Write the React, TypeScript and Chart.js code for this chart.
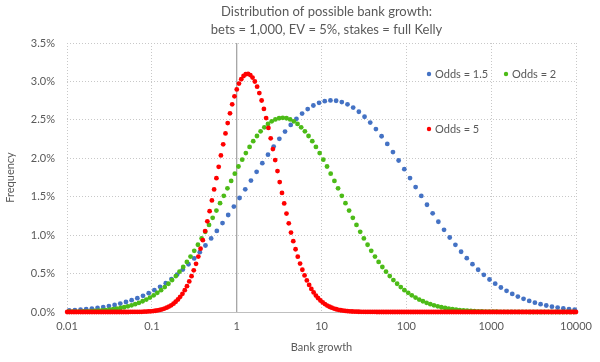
import React, { useEffect, useRef } from "react";
import { Chart, registerables } from "chart.js";

Chart.register(...registerables);

const TITLE_LINES = ["Distribution of possible bank growth:", "bets = 1,000, EV = 5%, stakes = full Kelly"];
const X_AXIS_TITLE = "Bank growth";
const Y_AXIS_TITLE = "Frequency";
const X_TICK_VALUES = [0.01, 0.1, 1, 10, 100, 1000, 10000];
const X_TICK_LABELS = ["0.01", "0.1", "1", "10", "100", "1000", "10000"];
const Y_MIN = 0;
const Y_MAX = 3.5;
const Y_STEP = 0.5;
const REFERENCE_LINE_X = 1;
const SERIES_LABELS = ["Odds = 1.5", "Odds = 2", "Odds = 5"];

// log10(bank growth) of each point, and its frequency in %
const ODDS_1_5_LOG_GROWTH = [
  -1.974, -1.907, -1.84, -1.774, -1.707, -1.64, -1.573, -1.506, -1.439, -1.372,
  -1.305, -1.238, -1.171, -1.104, -1.037, -0.97, -0.903, -0.836, -0.769, -0.702,
  -0.635, -0.568, -0.501, -0.435, -0.368, -0.301, -0.234, -0.167, -0.1, -0.033,
  0.034, 0.101, 0.168, 0.235, 0.302, 0.369, 0.436, 0.503, 0.57, 0.637,
  0.704, 0.771, 0.837, 0.904, 0.971, 1.038, 1.105, 1.172, 1.239, 1.306,
  1.373, 1.44, 1.507, 1.574, 1.641, 1.708, 1.775, 1.842, 1.909, 1.976,
  2.043, 2.109, 2.176, 2.243, 2.31, 2.377, 2.444, 2.511, 2.578, 2.645,
  2.712, 2.779, 2.846, 2.913, 2.98, 3.047, 3.114, 3.181, 3.248, 3.314,
  3.381, 3.448, 3.515, 3.582, 3.649, 3.716, 3.783, 3.85, 3.917, 3.984,
];
const ODDS_1_5_FREQ = [
  0.0197, 0.0243, 0.0298, 0.0364, 0.0443, 0.0536, 0.0646, 0.0775, 0.0926, 0.1101,
  0.1304, 0.1537, 0.1803, 0.2107, 0.245, 0.2836, 0.327, 0.3751, 0.4286, 0.4873,
  0.5516, 0.6215, 0.6971, 0.7786, 0.8654, 0.9575, 1.0547, 1.1565, 1.2622, 1.3713,
  1.483, 1.5963, 1.7104, 1.8243, 1.9367, 2.0464, 2.1523, 2.253, 2.3476, 2.4346,
  2.5132, 2.5819, 2.6402, 2.6869, 2.7216, 2.7437, 2.7529, 2.7489, 2.732, 2.7021,
  2.6598, 2.6057, 2.5404, 2.4648, 2.38, 2.287, 2.1871, 2.0814, 1.9711, 1.8577,
  1.7422, 1.6259, 1.51, 1.3955, 1.2834, 1.1745, 1.0695, 0.9691, 0.8738, 0.784,
  0.6999, 0.6217, 0.5496, 0.4833, 0.423, 0.3683, 0.319, 0.275, 0.2358, 0.2013,
  0.1709, 0.1443, 0.1212, 0.1013, 0.0844, 0.0697, 0.0574, 0.047, 0.0383, 0.031,
];

const ODDS_2_LOG_GROWTH = [
  -1.978, -1.934, -1.891, -1.848, -1.804, -1.761, -1.717, -1.674, -1.63, -1.587,
  -1.543, -1.5, -1.456, -1.413, -1.369, -1.326, -1.282, -1.239, -1.196, -1.152,
  -1.109, -1.065, -1.022, -0.978, -0.935, -0.891, -0.848, -0.804, -0.761, -0.717,
  -0.674, -0.63, -0.587, -0.544, -0.5, -0.457, -0.413, -0.37, -0.326, -0.283,
  -0.239, -0.196, -0.152, -0.109, -0.065, -0.022, 0.021, 0.065, 0.108, 0.152,
  0.195, 0.239, 0.282, 0.326, 0.369, 0.413, 0.456, 0.5, 0.543, 0.587,
  0.63, 0.674, 0.717, 0.76, 0.804, 0.847, 0.891, 0.934, 0.978, 1.021,
  1.065, 1.108, 1.152, 1.195, 1.239, 1.282, 1.325, 1.369, 1.412, 1.456,
  1.499, 1.543, 1.586, 1.63, 1.673, 1.717, 1.76, 1.804, 1.847, 1.891,
  1.934, 1.977, 2.021, 2.064, 2.108, 2.151, 2.195, 2.238, 2.282, 2.325,
  2.369, 2.412, 2.456, 2.499, 2.543, 2.586, 2.629, 2.673, 2.716, 2.76,
  2.803, 2.847, 2.89, 2.934, 2.977, 3.021, 3.064, 3.108, 3.151, 3.194,
  3.238, 3.281, 3.325, 3.368, 3.412, 3.455, 3.499, 3.542, 3.586, 3.629,
  3.673, 3.716, 3.76, 3.803, 3.846, 3.89, 3.933, 3.977,
];
const ODDS_2_FREQ = [
  0.003, 0.0037, 0.0047, 0.0059, 0.0073, 0.009, 0.0112, 0.0137, 0.0168, 0.0205,
  0.0249, 0.0301, 0.0363, 0.0436, 0.0521, 0.062, 0.0735, 0.0868, 0.1021, 0.1197,
  0.1397, 0.1623, 0.1879, 0.2167, 0.2489, 0.2846, 0.3242, 0.3678, 0.4157, 0.4679,
  0.5246, 0.5857, 0.6514, 0.7215, 0.796, 0.8747, 0.9573, 1.0434, 1.1329, 1.225,
  1.3194, 1.4153, 1.5121, 1.6091, 1.7054, 1.8003, 1.8928, 1.9821, 2.0673, 2.1476,
  2.2221, 2.2899, 2.3504, 2.4028, 2.4465, 2.4811, 2.5061, 2.5212, 2.5263, 2.5212,
  2.5061, 2.4811, 2.4465, 2.4028, 2.3504, 2.2899, 2.2221, 2.1476, 2.0673, 1.9821,
  1.8928, 1.8003, 1.7054, 1.6091, 1.5121, 1.4153, 1.3194, 1.225, 1.1329, 1.0434,
  0.9573, 0.8747, 0.796, 0.7215, 0.6514, 0.5857, 0.5246, 0.4679, 0.4157, 0.3678,
  0.3242, 0.2846, 0.2489, 0.2167, 0.1879, 0.1623, 0.1397, 0.1197, 0.1021, 0.0868,
  0.0735, 0.062, 0.0521, 0.0436, 0.0363, 0.0301, 0.0249, 0.0205, 0.0168, 0.0137,
  0.0112, 0.009, 0.0073, 0.0059, 0.0047, 0.0037, 0.003, 0.0023, 0.0018, 0.0015,
  0.0011, 0.0009, 0.0007, 0.0005, 0.0004, 0.0003, 0.0002, 0.0002, 0.0001, 0.0001,
  0.0001, 0.0001, 0, 0, 0, 0, 0, 0,
];

const ODDS_5_LOG_GROWTH = [
  -1.998, -1.971, -1.945, -1.918, -1.892, -1.865, -1.838, -1.812, -1.785, -1.758,
  -1.732, -1.705, -1.678, -1.652, -1.625, -1.598, -1.572, -1.545, -1.518, -1.492,
  -1.465, -1.438, -1.412, -1.385, -1.358, -1.332, -1.305, -1.279, -1.252, -1.225,
  -1.199, -1.172, -1.145, -1.119, -1.092, -1.065, -1.039, -1.012, -0.985, -0.959,
  -0.932, -0.905, -0.879, -0.852, -0.825, -0.799, -0.772, -0.745, -0.719, -0.692,
  -0.666, -0.639, -0.612, -0.586, -0.559, -0.532, -0.506, -0.479, -0.452, -0.426,
  -0.399, -0.372, -0.346, -0.319, -0.292, -0.266, -0.239, -0.212, -0.186, -0.159,
  -0.132, -0.106, -0.079, -0.053, -0.026, 0.001, 0.027, 0.054, 0.081, 0.107,
  0.134, 0.161, 0.187, 0.214, 0.241, 0.267, 0.294, 0.321, 0.347, 0.374,
  0.401, 0.427, 0.454, 0.481, 0.507, 0.534, 0.56, 0.587, 0.614, 0.64,
  0.667, 0.694, 0.72, 0.747, 0.774, 0.8, 0.827, 0.854, 0.88, 0.907,
  0.934, 0.96, 0.987, 1.014, 1.04, 1.067, 1.094, 1.12, 1.147, 1.173,
  1.2, 1.227, 1.253, 1.28, 1.307, 1.333, 1.36, 1.387, 1.413, 1.44,
  1.467, 1.493, 1.52, 1.547, 1.573, 1.6, 1.627, 1.653, 1.68, 1.707,
  1.733, 1.76, 1.786, 1.813, 1.84, 1.866, 1.893, 1.92, 1.946, 1.973,
  2.0, 2.026, 2.053, 2.08, 2.106, 2.133, 2.16, 2.186, 2.213, 2.24,
  2.266, 2.293, 2.32, 2.346, 2.373, 2.4, 2.426, 2.453, 2.479, 2.506,
  2.533, 2.559, 2.586, 2.613, 2.639, 2.666, 2.693, 2.719, 2.746, 2.773,
  2.799, 2.826, 2.853, 2.879, 2.906, 2.933, 2.959, 2.986, 3.012, 3.039,
  3.066, 3.092, 3.119, 3.146, 3.172, 3.199, 3.226, 3.252, 3.279, 3.306,
  3.332, 3.359, 3.386, 3.412, 3.439, 3.466, 3.492, 3.519, 3.546, 3.572,
  3.599, 3.625, 3.652, 3.679, 3.705, 3.732, 3.759, 3.785, 3.812, 3.839,
  3.865, 3.892, 3.919, 3.945, 3.972, 3.999,
];
const ODDS_5_FREQ = [
  0, 0, 0, 0, 0, 0, 0, 0, 0, 0,
  0, 0, 0, 0, 0, 0, 0, 0, 0, 0,
  0, 0, 0, 0, 0.0001, 0.0002, 0.0002, 0.0003, 0.0005, 0.0007,
  0.001, 0.0014, 0.002, 0.0028, 0.0039, 0.0052, 0.007, 0.0094, 0.0124, 0.0162,
  0.021, 0.0273, 0.0349, 0.0443, 0.056, 0.0703, 0.0875, 0.1083, 0.1331, 0.1625,
  0.1969, 0.237, 0.2834, 0.3366, 0.3972, 0.4656, 0.5423, 0.6273, 0.7211, 0.8233,
  0.9341, 1.053, 1.1793, 1.3125, 1.4514, 1.5947, 1.7412, 1.8891, 2.0367, 2.1822,
  2.3234, 2.4584, 2.585, 2.7016, 2.8058, 2.8963, 2.9715, 3.0299, 3.0708, 3.0934,
  3.0973, 3.0826, 3.0496, 2.9989, 2.9315, 2.8487, 2.7518, 2.6426, 2.5228, 2.3944,
  2.2594, 2.1196, 1.9769, 1.8333, 1.6903, 1.5495, 1.4124, 1.2802, 1.1537, 1.034,
  0.9213, 0.8165, 0.7195, 0.6305, 0.5495, 0.4762, 0.4104, 0.3517, 0.2998, 0.2542,
  0.2143, 0.1797, 0.1499, 0.1243, 0.1025, 0.0841, 0.0686, 0.0557, 0.0449, 0.0361,
  0.0288, 0.0228, 0.018, 0.0142, 0.011, 0.0086, 0.0067, 0.0052, 0.004, 0.003,
  0.0023, 0.0017, 0.0013, 0.001, 0.0007, 0.0005, 0.0004, 0.0003, 0.0002, 0.0002,
  0.0001, 0, 0, 0, 0, 0, 0, 0, 0, 0,
  0, 0, 0, 0, 0, 0, 0, 0, 0, 0,
  0, 0, 0, 0, 0, 0, 0, 0, 0, 0,
  0, 0, 0, 0, 0, 0, 0, 0, 0, 0,
  0, 0, 0, 0, 0, 0, 0, 0, 0, 0,
  0, 0, 0, 0, 0, 0, 0, 0, 0, 0,
  0, 0, 0, 0, 0, 0, 0, 0, 0, 0,
  0, 0, 0, 0, 0, 0, 0, 0, 0, 0,
  0, 0, 0, 0, 0, 0,
];

const SERIES_COLORS = ["#4472C4", "#4CBB17", "#FF0000"];
const TEXT_COLOR = "#595959";
const GRID_COLOR = "#C8C8C8";
const FONT_FAMILY = "Lato, 'Open Sans', sans-serif";
const LABEL_SIZE = 11;

const toPoints = (logs: number[], freqs: number[]) =>
  logs.map((lg, i) => ({ x: Math.pow(10, lg), y: freqs[i] }));

// Two-line title, centred slightly right of the plot-area centre
const titlePlugin = {
  id: "twoLineTitle",
  afterDraw(chart: any) {
    const { ctx, chartArea } = chart;
    ctx.save();
    ctx.font = `13px ${FONT_FAMILY}`;
    ctx.fillStyle = TEXT_COLOR;
    ctx.textAlign = "center";
    ctx.textBaseline = "middle";
    const cx = (chartArea.left + chartArea.right) / 2 + 5;
    TITLE_LINES.forEach((line, i) => ctx.fillText(line, cx, 12 + i * 18));
    ctx.restore();
  },
};

// Legend entries positioned inside the plot area (offsets from chart area top-left)
const LEGEND_LAYOUT = [
  { dx: 362, dy: 31 },
  { dx: 439, dy: 31 },
  { dx: 362, dy: 86 },
];

const insideLegend = {
  id: "insideLegend",
  afterDraw(chart: any) {
    const { ctx, chartArea } = chart;
    ctx.save();
    ctx.font = `${LABEL_SIZE}px ${FONT_FAMILY}`;
    ctx.textBaseline = "middle";
    ctx.textAlign = "left";
    LEGEND_LAYOUT.forEach((pos, i) => {
      const ds = chart.data.datasets[i];
      const x = chartArea.left + pos.dx;
      const y = chartArea.top + pos.dy;
      ctx.fillStyle = ds.backgroundColor;
      ctx.beginPath();
      ctx.arc(x, y, 2.2, 0, Math.PI * 2);
      ctx.fill();
      ctx.fillStyle = TEXT_COLOR;
      ctx.fillText(ds.label, x + 6, y);
    });
    ctx.restore();
  },
};

export default function App() {
  const canvasRef = useRef<HTMLCanvasElement | null>(null);

  useEffect(() => {
    if (!canvasRef.current) return;
    const series = [
      [ODDS_1_5_LOG_GROWTH, ODDS_1_5_FREQ],
      [ODDS_2_LOG_GROWTH, ODDS_2_FREQ],
      [ODDS_5_LOG_GROWTH, ODDS_5_FREQ],
    ];
    const datasets: any[] = series.map(([logs, freqs], i) => ({
      label: SERIES_LABELS[i],
      data: toPoints(logs, freqs),
      backgroundColor: SERIES_COLORS[i],
      borderColor: SERIES_COLORS[i],
      pointRadius: 2.4,
      pointBorderWidth: 0,
      showLine: false,
      clip: false,
      order: 3 - i,
    }));
    datasets.push({
      label: "",
      data: [
        { x: REFERENCE_LINE_X, y: Y_MIN },
        { x: REFERENCE_LINE_X, y: Y_MAX },
      ],
      showLine: true,
      borderColor: "#A6A6A6",
      borderWidth: 1.3,
      pointRadius: 0,
      order: 10,
    });

    const chart = new Chart(canvasRef.current, {
      type: "scatter",
      data: { datasets },
      options: {
        animation: false,
        responsive: false,
        layout: { padding: { left: 0, right: 17, top: 43, bottom: 0 } },
        plugins: {
          legend: { display: false },
          tooltip: { enabled: false },
          title: { display: false },
        },
        scales: {
          x: {
            type: "logarithmic",
            min: X_TICK_VALUES[0],
            max: X_TICK_VALUES[X_TICK_VALUES.length - 1],
            afterBuildTicks: (scale: any) => {
              scale.ticks = X_TICK_VALUES.map((v) => ({ value: v }));
            },
            afterFit: (scale: any) => {
              scale.height = 50;
            },
            ticks: {
              color: TEXT_COLOR,
              font: { family: FONT_FAMILY, size: LABEL_SIZE },
              padding: 8,
              maxRotation: 0,
              autoSkip: false,
              callback: (_v: any, i: number) => X_TICK_LABELS[i],
            },
            grid: { color: GRID_COLOR, drawTicks: false },
            border: { display: true, color: "#BFBFBF", width: 1, dash: [1, 2] },
            title: {
              display: true,
              text: X_AXIS_TITLE,
              color: TEXT_COLOR,
              font: { family: FONT_FAMILY, size: LABEL_SIZE },
              padding: { top: 0, bottom: 8 },
            },
          },
          y: {
            type: "linear",
            min: Y_MIN,
            max: Y_MAX,
            afterFit: (scale: any) => {
              scale.width = 67;
            },
            ticks: {
              stepSize: Y_STEP,
              color: TEXT_COLOR,
              font: { family: FONT_FAMILY, size: LABEL_SIZE },
              padding: 12,
              callback: (v: any) => Number(v).toFixed(1) + "%",
            },
            grid: { color: GRID_COLOR, drawTicks: false },
            border: { display: false, dash: [1, 2] },
            title: {
              display: true,
              text: Y_AXIS_TITLE,
              color: TEXT_COLOR,
              font: { family: FONT_FAMILY, size: LABEL_SIZE },
              padding: { top: 4, bottom: 0 },
            },
          },
        },
      } as any,
      plugins: [titlePlugin, insideLegend],
    });

    return () => chart.destroy();
  }, []);

  return (
    <div style={{ position: "fixed", left: 0, top: 0, width: 600, height: 362, background: "#fff" }}>
      <canvas ref={canvasRef} width={600} height={362} />
    </div>
  );
}
